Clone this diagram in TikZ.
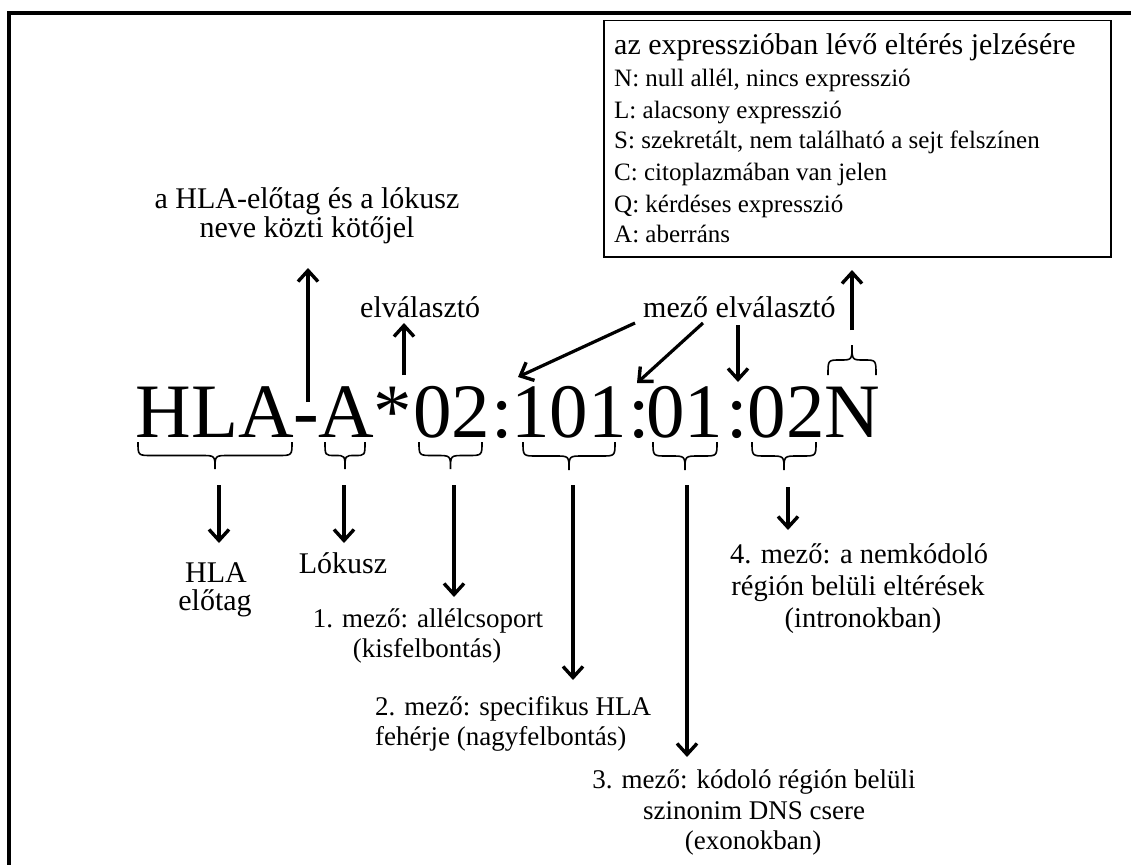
\documentclass[tikz,border=0pt]{standalone}
\usepackage{fontspec}
\setmainfont{Liberation Serif}
\usetikzlibrary{arrows.meta,calc}
\newcommand\hbrace[4]{%
  \pgfmathsetmacro\hbXm{(#1+#2)/2}%
  \pgfmathsetmacro\hbYm{#3+#4/2}%
  \pgfmathsetmacro\hbYt{#3+#4}%
  \pgfmathsetmacro\hbR{min(14,(#2-#1)/4)}%
  \draw[brc] (#1,#3) .. controls (#1,\hbYm) .. ({#1+\hbR},\hbYm) -- ({\hbXm-\hbR},\hbYm)
    .. controls (\hbXm,\hbYm) .. (\hbXm,\hbYt) .. controls (\hbXm,\hbYm) .. ({\hbXm+\hbR},\hbYm)
    -- ({#2-\hbR},\hbYm) .. controls (#2,\hbYm) .. (#2,#3);%
}
\begin{document}
\begin{tikzpicture}[x=1pt,y=-1pt,
  big/.style={font=\fontsize{77}{80}\selectfont, inner sep=0pt, anchor=base},
  lbl/.style={font=\fontsize{30}{29}\selectfont, inner sep=0pt, anchor=base},
  fld/.style={font=\fontsize{27}{30}\selectfont, inner sep=0pt, anchor=base},
  fldfour/.style={font=\fontsize{28.5}{31}\selectfont, inner sep=0pt, anchor=base},
  item/.style={font=\fontsize{25}{25}\selectfont, inner sep=0pt, anchor=base west},
  arr/.style={line width=3.2pt, -{Straight Barb[length=11pt,width=20pt,line width=3.4pt]}},
  brc/.style={line width=1.6pt},
  framest/.style={line width=3.8pt, line join=miter},
  boxst/.style={draw, line width=1.5pt, rectangle, inner sep=0pt}
]
\useasboundingbox (0,0) rectangle (1131,864);
% outer frame (cropped)
\draw[framest] (8.7,866) -- (8.7,13.3) -- (1133,13.3);

% main designation
\node[big] (hla)  at (215,437)   {HLA};
\node[big] (dash) at (306,437)   {-};
\node[big] (loc)  at (346.5,437) {A};
\node[big] (star) at (393,437)   {*};
\node[big] (fa)   at (451.5,437) {02};
\node[big] (ca)   at (502,437)   {:};
\node[big] (fb)   at (569,437)   {101};
\node[big] (cb)   at (639,437)   {:};
\node[big] (fc)   at (684.5,437) {01};
\node[big] (cc)   at (737.5,437) {:};
\node[big] (fd)   at (786,437)   {02};
\node[big] (suf)  at (852.5,437) {N};

% braces
\hbrace{138}{292}{442}{27}
\hbrace{325}{365}{442}{27}
\hbrace{419}{482}{442}{27}
\hbrace{523}{615}{442}{28}
\hbrace{653}{717}{442}{28}
\hbrace{752}{816}{442}{28}
\hbrace{828}{876}{375}{-30}

% labels above
\node[lbl] (hyA) at (307,208) {a HLA-előtag és a lókusz};
\node[lbl] (hyB) at (307,237) {neve közti kötőjel};
\node[lbl, anchor=base west] (sep) at (360,317) {elválasztó};
\node[lbl, anchor=base west] (fsep) at (643,317) {mező elválasztó};

% legend box
\node[boxst, minimum width=507pt, minimum height=236pt, anchor=north west] (box) at (603,20) {};
\node[lbl, anchor=base west] (bh) at (614,55) {az expresszióban lévő eltérés jelzésére};
\node[item] (bn) at (614,87)  {N: null allél, nincs expresszió};
\node[item] (bl) at (614,118) {L: alacsony expresszió};
\node[item] (bs) at (614,148) {S: szekretált, nem található a sejt felszínen};
\node[item] (bc) at (614,180) {C: citoplazmában van jelen};
\node[item] (bq) at (614,212) {Q: kérdéses expresszió};
\node[item] (ba) at (614,242) {A: aberráns};

% labels below
\node[lbl] (pre1) at (216,582) {HLA};
\node[lbl] (pre2) at (215,610) {előtag};
\node[lbl] (lok)  at (343,573) {Lókusz};
\node[fld] (ma1) at (428,627) {1. mező: allélcsoport};
\node[fld] (ma2) at (427,657) {(kisfelbontás)};
\node[fld, anchor=base west] (mb1) at (375,715) {2. mező: specifikus HLA};
\node[fld, anchor=base west] (mb2) at (375,745) {fehérje (nagyfelbontás)};
\node[fld] (mc1) at (754,788) {3. mező: kódoló régión belüli};
\node[fld] (mc2) at (754,819) {szinonim DNS csere};
\node[fld] (mc3) at (753,849) {(exonokban)};
\node[fldfour] (md1) at (859,563) {4. mező: a nemkódoló};
\node[fldfour] (md2) at (858,595) {régión belüli eltérések};
\node[fldfour] (md3) at (863,627) {(intronokban)};

% arrow end points
\coordinate (dashTop) at (308,402);
\coordinate (hyTip)   at (308,268);
\coordinate (starTop) at (404,375);
\coordinate (sepTip)  at (404,323);
\coordinate (fsA)     at (635,323);
\coordinate (caTip)   at (518,377);
\coordinate (fsB)     at (703,323);
\coordinate (cbTip)   at (637,383);
\coordinate (fsC)     at (738,325);
\coordinate (ccTip)   at (738,382);
\coordinate (sufTop)  at (852,330);
\coordinate (boxTip)  at (852,270);
\coordinate (hlaB)    at (219,485);
\coordinate (hlaTip)  at (219,543);
\coordinate (locB)    at (344,485);
\coordinate (locTip)  at (344,543);
\coordinate (faB)     at (454,485);
\coordinate (faTip)   at (454,597);
\coordinate (fbB)     at (573,485);
\coordinate (fbTip)   at (573,680);
\coordinate (fcB)     at (687,485);
\coordinate (fcTip)   at (687,757);
\coordinate (fdB)     at (788,487);
\coordinate (fdTip)   at (788,530);

% arrows
\draw[arr] (dashTop) -- (hyTip);
\draw[arr] (starTop) -- (sepTip);
\draw[arr] (fsA) -- (caTip);
\draw[arr] (fsB) -- (cbTip);
\draw[arr] (fsC) -- (ccTip);
\draw[arr] (sufTop) -- (boxTip);
\draw[arr] (hlaB) -- (hlaTip);
\draw[arr] (locB) -- (locTip);
\draw[arr] (faB) -- (faTip);
\draw[arr] (fbB) -- (fbTip);
\draw[arr] (fcB) -- (fcTip);
\draw[arr] (fdB) -- (fdTip);
\end{tikzpicture}
\end{document}
